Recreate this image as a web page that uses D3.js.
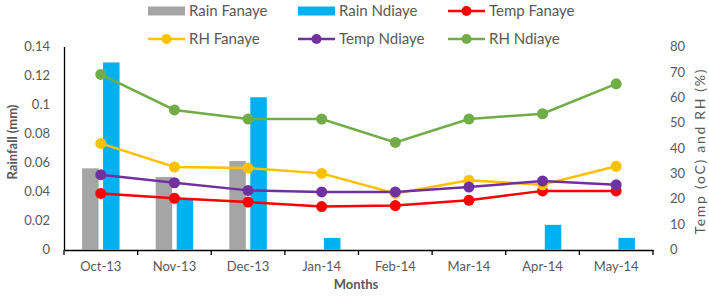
<!DOCTYPE html>
<html><head><meta charset="utf-8">
<script src="https://cdn.jsdelivr.net/npm/d3@7"></script>
<style>body{margin:0;background:#fff}svg{display:block}text{font-family:Lato,"Open Sans",sans-serif;fill:#595959}</style>
</head><body>
<svg id="c" width="709" height="296"></svg>
<script>
const months = ["Oct-13","Nov-13","Dec-13","Jan-14","Feb-14","Mar-14","Apr-14","May-14"];
const rainFanaye = [0.056,0.050,0.061,0,0,0,0,0];
const rainNdiaye = [0.129,0.035,0.105,0.008,0,0,0.017,0.008];
const tempFanaye = [22.1,20.2,18.7,16.9,17.3,19.4,23.1,23.1];
const rhFanaye = [41.8,32.5,32.1,30.0,22.1,27.3,25.5,32.8];
const tempNdiaye = [29.5,26.3,23.3,22.7,22.7,24.6,27.0,25.5];
const rhNdiaye = [69.0,55.0,51.4,51.4,42.2,51.4,53.5,65.3];
const leftTicks = [0,0.02,0.04,0.06,0.08,0.1,0.12,0.14];
const rightTicks = [0,10,20,30,40,50,60,70,80];

const svg = d3.select("#c");
const L = 64, R = 653, T = 46.5, B = 249.5;
const x = d3.scaleBand().domain(months).range([L, R]);
const yL = d3.scaleLinear().domain([0,0.14]).range([B, T]);
const yR = d3.scaleLinear().domain([0,80]).range([B, T]);
const bw = 16.5, off = 10.5;

// bars
svg.append("g").selectAll("rect").data(months).join("rect")
  .attr("x", d => x(d)+x.bandwidth()/2 - off - bw/2)
  .attr("y", (d,i) => yL(rainFanaye[i])).attr("width", bw)
  .attr("height", (d,i) => B - yL(rainFanaye[i])).attr("fill", "#A5A5A5");
svg.append("g").selectAll("rect").data(months).join("rect")
  .attr("x", d => x(d)+x.bandwidth()/2 + off - bw/2)
  .attr("y", (d,i) => yL(rainNdiaye[i])).attr("width", bw)
  .attr("height", (d,i) => B - yL(rainNdiaye[i])).attr("fill", "#00B0F0");

// axes
const ax = svg.append("g").attr("transform", `translate(0,${B+0.5})`)
  .call(d3.axisBottom(x).tickSize(0).tickPadding(12));
ax.select(".domain").attr("stroke","#000").attr("stroke-width",1.3);
ax.selectAll("text").attr("font-size",13).style("fill","#595959");
svg.append("g").selectAll("line").data(d3.range(months.length+1)).join("line")
  .attr("x1", i => L + i*x.step()).attr("x2", i => L + i*x.step())
  .attr("y1", B+0.5).attr("y2", B+5.5).attr("stroke","#000").attr("stroke-width",1.3);

const al = svg.append("g").attr("transform", `translate(${L},0)`)
  .call(d3.axisLeft(yL).tickValues(leftTicks).tickSize(0).tickPadding(14).tickFormat(d => String(+d.toFixed(2))));
al.select(".domain").attr("stroke","#000").attr("stroke-width",1.3);
al.selectAll("text").attr("font-size",13).style("fill","#595959");

const ar = svg.append("g").attr("transform", `translate(${R},0)`)
  .call(d3.axisRight(yR).tickValues(rightTicks).tickSize(0).tickPadding(17));
ar.select(".domain").remove();
ar.selectAll("text").attr("font-size",13).style("fill","#595959");

// lines
const series = [
  {name:"Temp Fanaye", v:tempFanaye, c:"#FF0000"},
  {name:"RH Fanaye", v:rhFanaye, c:"#FFC000"},
  {name:"Temp Ndiaye", v:tempNdiaye, c:"#7030A0"},
  {name:"RH Ndiaye", v:rhNdiaye, c:"#70AD47"}
];
const cx = d => x(d)+x.bandwidth()/2;
series.forEach(s => {
  const g = svg.append("g");
  g.append("path").datum(s.v).attr("fill","none").attr("stroke",s.c).attr("stroke-width",2.5)
    .attr("d", d3.line().x((d,i)=>cx(months[i])).y(d=>yR(d)));
  g.selectAll("circle").data(s.v).join("circle")
    .attr("cx",(d,i)=>cx(months[i])).attr("cy",d=>yR(d)).attr("r",5.5).attr("fill",s.c);
});

// axis titles
svg.append("text").attr("transform","translate(12,142) rotate(-90)").attr("text-anchor","middle")
  .attr("dy","0.35em").attr("font-size",13).attr("font-weight","bold").text("Rainfall (mm)");
svg.append("text").attr("transform","translate(700,152) rotate(-90)").attr("text-anchor","middle")
  .attr("dy","0.35em").attr("font-size",14).attr("textLength",165).attr("lengthAdjust","spacing")
  .text("Temp (oC) and RH (%)");
svg.append("text").attr("x",356).attr("y",284).attr("dy","0.35em").attr("text-anchor","middle")
  .attr("font-size",13).attr("font-weight","bold").text("Months");

// legend
const legend = [
  {n:"Rain Fanaye", c:"#A5A5A5", t:"bar", col:0, row:0},
  {n:"Rain Ndiaye", c:"#00B0F0", t:"bar", col:1, row:0},
  {n:"Temp Fanaye", c:"#FF0000", t:"line", col:2, row:0},
  {n:"RH Fanaye", c:"#FFC000", t:"line", col:0, row:1},
  {n:"Temp Ndiaye", c:"#7030A0", t:"line", col:1, row:1},
  {n:"RH Ndiaye", c:"#70AD47", t:"line", col:2, row:1}
];
const lg = svg.append("g");
legend.forEach(d => {
  const lx = 148 + d.col*150, ly = 11 + d.row*28;
  if (d.t === "bar") {
    lg.append("rect").attr("x",lx).attr("y",ly-4.5).attr("width",37).attr("height",9).attr("fill",d.c);
  } else {
    lg.append("line").attr("x1",lx).attr("x2",lx+37).attr("y1",ly).attr("y2",ly).attr("stroke",d.c).attr("stroke-width",2.5);
    lg.append("circle").attr("cx",lx+18.5).attr("cy",ly).attr("r",5).attr("fill",d.c);
  }
  lg.append("text").attr("x",lx+41).attr("y",ly).attr("dy","0.35em").attr("font-size",15).text(d.n);
});
</script>
</body></html>
